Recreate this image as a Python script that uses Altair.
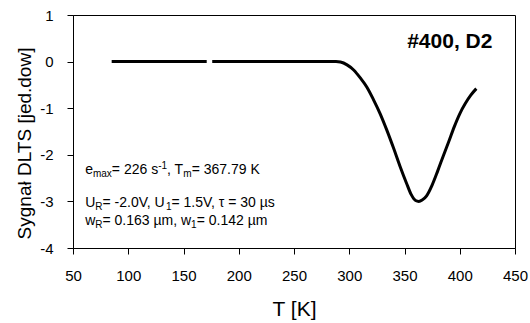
import altair as alt
import pandas as pd

# DLTS curve
T_seg1 = [85, 100, 125, 150, 171]
S_seg1 = [0, 0, 0, 0, 0]
T_seg2 = [176, 200, 225, 250, 275, 288, 292, 298, 304, 310, 316, 322, 328, 334, 340,
          346, 352, 356, 360, 363, 366, 370, 375, 380, 385, 390, 395, 400, 405, 410, 415]
S_seg2 = [0, 0, 0, 0, 0, 0, -0.01, -0.07, -0.18, -0.35, -0.55, -0.82, -1.12, -1.47, -1.85,
          -2.25, -2.62, -2.85, -2.98, -3.00, -2.97, -2.88, -2.65, -2.35, -2.03, -1.72, -1.40,
          -1.12, -0.90, -0.72, -0.58]

x_ticks = [50, 100, 150, 200, 250, 300, 350, 400, 450]
y_ticks = [-4, -3, -2, -1, 0, 1]

# annotation lines: pieces of (text, kind) where kind is n = normal, b = subscript, p = superscript
ann_line1 = [("e", "n"), ("max", "b"), ("= 226 s", "n"), ("-1", "p"), (", T", "n"), ("m", "b"),
             ("= 367.79 K", "n")]
ann_line2 = [("U", "n"), ("R", "b"), ("= -2.0V, U", "n"), ("1", "b"), ("= 1.5V, τ = 30 µs", "n")]
ann_line3 = [("w", "n"), ("R", "b"), ("= 0.163 µm, w", "n"), ("1", "b"), ("= 0.142 µm", "n")]
ann_T = 61.0
ann_S = [-2.41, -3.12, -3.51]

label_text = ["#400, D2"]
label_T = [391]
label_S = [0.29]

FONT = "Liberation Sans"
MAIN_SIZE = 14
SUB_SIZE = 10

# Arial / Liberation Sans advance widths (em)
WIDTHS = {"e": .556, "m": .833, "a": .556, "x": .5, "=": .584, " ": .278, "s": .5, "-": .333,
          ",": .278, "T": .611, "K": .667, "U": .722, "R": .722, ".": .278, "V": .667,
          "τ": .5, "µ": .576, "w": .722}
for d in "0123456789":
    WIDTHS[d] = .556


def text_width(s, size):
    return sum(WIDTHS.get(c, .556) for c in s) * size


curve = pd.DataFrame({
    "T": T_seg1 + T_seg2,
    "S": S_seg1 + S_seg2,
    "seg": ["a"] * len(T_seg1) + ["b"] * len(T_seg2),
})
lab = pd.DataFrame({"T": label_T, "S": label_S, "txt": label_text})

xscale = alt.Scale(domain=[50, 450], nice=False, zero=False)
yscale = alt.Scale(domain=[-4, 1], nice=False, zero=False)

xaxis = alt.Axis(values=x_ticks, title="T [K]", grid=False, labelFontSize=15,
                 tickSize=6, tickColor="black", domainColor="black", labelColor="black",
                 labelPadding=14, titleFontSize=21, titleFontWeight="normal",
                 titleColor="black", titleX=221, titleY=67, titleBaseline="alphabetic",
                 labelFlush=False)
yaxis = alt.Axis(values=y_ticks, title="Sygnał DLTS [jed.dow]", grid=False,
                 labelFontSize=15, tickSize=6, tickColor="black", domainColor="black",
                 labelColor="black", labelPadding=14, labelExpr="'' + datum.value",
                 titleFontSize=19, titleFontWeight="normal", titleColor="black",
                 titleX=-43, titleY=128, titleAngle=270, titleAlign="center",
                 titleBaseline="alphabetic", titleLimit=1000, labelFlush=False)

layers = [
    alt.Chart(curve).mark_line(color="black", strokeWidth=3, interpolate="monotone").encode(
        x=alt.X("T:Q", scale=xscale, axis=xaxis),
        y=alt.Y("S:Q", scale=yscale, axis=yaxis),
        detail="seg:N",
    )
]

for line_pieces, s_val in zip([ann_line1, ann_line2, ann_line3], ann_S):
    offset = 0.0
    for txt, kind in line_pieces:
        size = MAIN_SIZE if kind == "n" else SUB_SIZE
        dy = 0 if kind == "n" else (3 if kind == "b" else -5)
        df = pd.DataFrame({"T": [ann_T], "S": [s_val], "txt": [txt]})
        layers.append(
            alt.Chart(df).mark_text(align="left", baseline="alphabetic", fontSize=size,
                                    color="black", font=FONT, dx=offset, dy=dy).encode(
                x=alt.X("T:Q", scale=xscale),
                y=alt.Y("S:Q", scale=yscale),
                text="txt:N",
            )
        )
        offset += text_width(txt, size)

layers.append(
    alt.Chart(lab).mark_text(align="center", baseline="alphabetic", fontSize=21,
                             fontWeight="bold", color="black", font=FONT).encode(
        x=alt.X("T:Q", scale=xscale),
        y=alt.Y("S:Q", scale=yscale),
        text="txt:N",
    )
)

chart = alt.layer(*layers).properties(
    width=442, height=233,
    padding={"left": 73, "top": 15, "right": 15, "bottom": 75},
    autosize="none",
    background="white",
).configure(font=FONT).configure_view(stroke="black", strokeWidth=1)

chart.save("out.html", embed_options={"renderer": "svg", "actions": False})
